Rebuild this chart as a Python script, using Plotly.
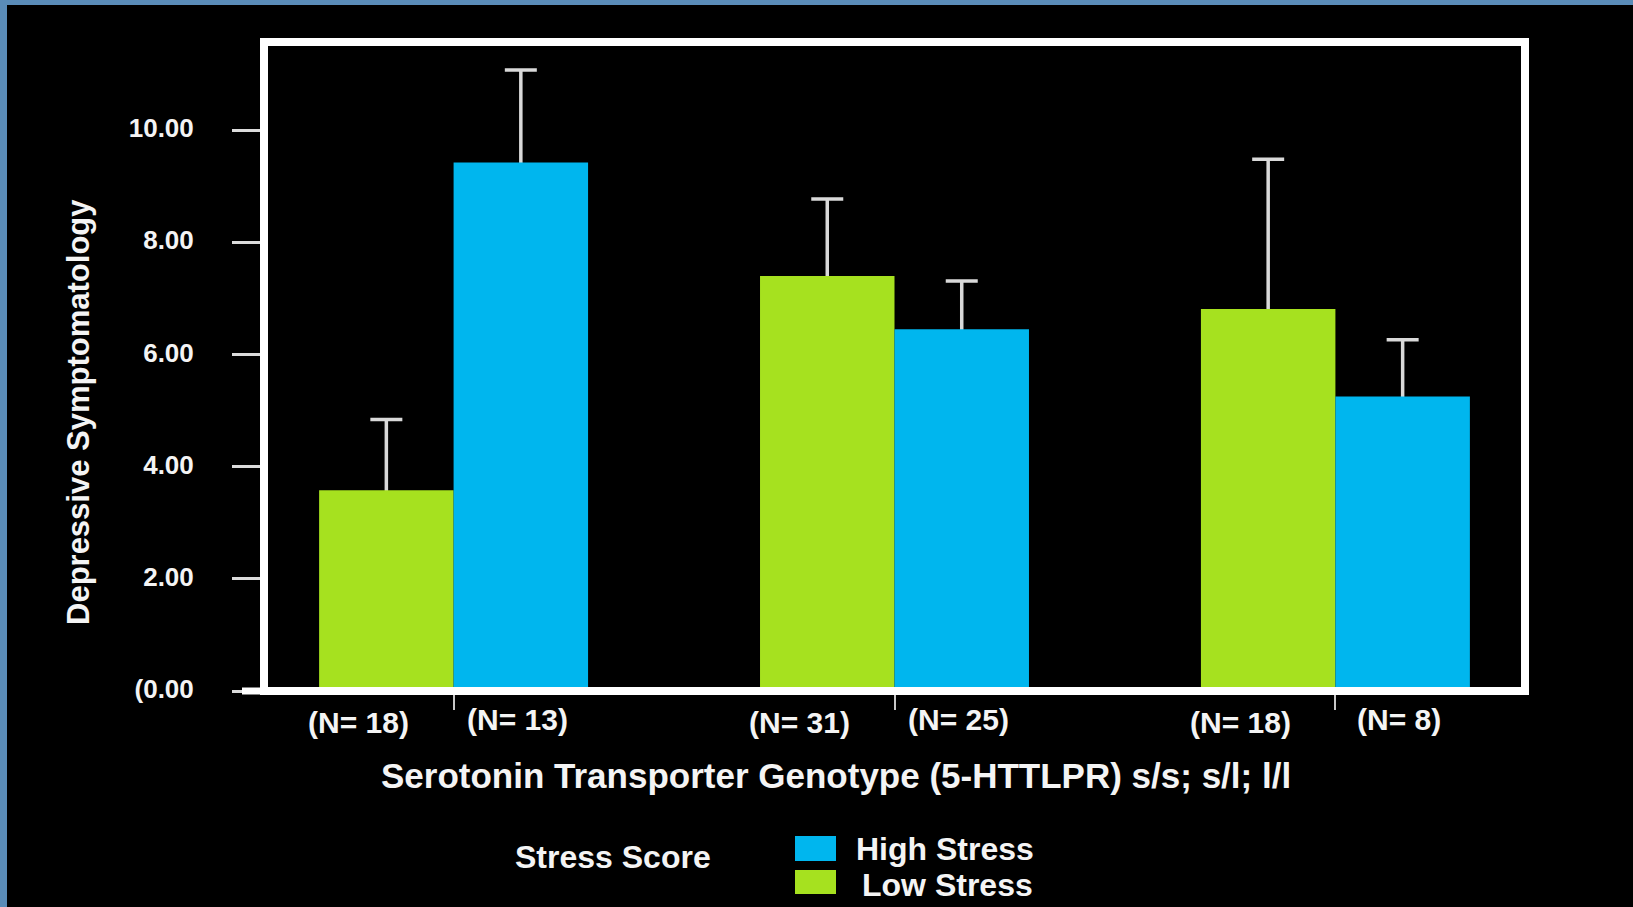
import plotly.graph_objects as go

# ---- data -------------------------------------------------------------
genotypes = ["s/s", "s/l", "l/l"]
series_names = ["Low Stress", "High Stress"]
low_stress_mean = [3.58, 7.40, 6.81]
low_stress_err = [1.26, 1.37, 2.67]
high_stress_mean = [9.42, 6.45, 5.25]
high_stress_err = [1.65, 0.86, 1.01]
low_stress_n = ["(N= 18)", "(N= 31)", "(N= 18)"]
high_stress_n = ["(N= 13)", "(N= 25)", "(N= 8)"]
y_tickvals = [0, 2, 4, 6, 8, 10]
y_ticktext = ["(0.00", "2.00", "4.00", "6.00", "8.00", "10.00"]

# ---- styling ----------------------------------------------------------
W, H = 1633, 907
L, R, T, B = 264, 108, 42, 216          # plot-area margins in px
GREEN = "#a6e11f"
BLUE = "#00b6ee"
ERR = "#d9d9d9"
WHITE = "#f4f4f4"
FRAME_BLUE = "#5a8cb8"
FONT = "Liberation Sans, Arial, sans-serif"

PW = W - L - R
PH = H - T - B


def px_x(px):
    return (px - L) / PW


def px_y(py):
    return (H - B - py) / PH


def error_carrier(name, means, errs, group):
    # transparent bar that only carries the error bar; the coloured bar
    # drawn afterwards in the same offset group hides its lower half
    return go.Bar(
        name=name + " SE",
        x=genotypes,
        y=means,
        offsetgroup=group,
        marker=dict(color="rgba(0,0,0,0)", line=dict(width=0)),
        error_y=dict(type="data", array=errs, color=ERR, thickness=3.5, width=16),
        showlegend=False,
        hoverinfo="skip",
    )


def bar_trace(name, means, color, group):
    return go.Bar(
        name=name,
        x=genotypes,
        y=means,
        offsetgroup=group,
        marker=dict(color=color, line=dict(width=0)),
        showlegend=False,
    )


fig = go.Figure()
fig.add_trace(error_carrier(series_names[0], low_stress_mean, low_stress_err, "low"))
fig.add_trace(error_carrier(series_names[1], high_stress_mean, high_stress_err, "high"))
fig.add_trace(bar_trace(series_names[0], low_stress_mean, GREEN, "low"))
fig.add_trace(bar_trace(series_names[1], high_stress_mean, BLUE, "high"))

fig.update_layout(
    width=W, height=H,
    margin=dict(l=L, r=R, t=T, b=B, autoexpand=False),
    paper_bgcolor="black",
    plot_bgcolor="black",
    barmode="group",
    bargap=0.39,
    bargroupgap=0,
    font=dict(family=FONT, color=WHITE, weight="bold"),
)

fig.update_xaxes(
    type="category",
    range=[-0.43, 2.43],
    showgrid=False, zeroline=False, showline=False,
    showticklabels=False,
    ticks="outside", ticklen=18, tickwidth=2, tickcolor="#c8c8c8",
)
fig.update_yaxes(
    range=[0, 11.57],
    showgrid=False, zeroline=False, showline=False,
    tickvals=y_tickvals, ticktext=y_ticktext,
    ticks="outside", ticklen=31, tickwidth=3, tickcolor="#dcdcdc",
    ticklabelstandoff=33,
    ticklabelshift=-2,
    tickfont=dict(family=FONT, size=26, color=WHITE, weight="bold"),
)

shapes = []
# white frame around the plotting area
shapes.append(dict(type="rect", xref="paper", yref="paper", x0=0, x1=1, y0=0, y1=1,
                   line=dict(color="white", width=8), layer="above"))
# baseline extension to the left of the frame
shapes.append(dict(type="line", xref="paper", yref="paper",
                   x0=px_x(242), x1=0, y0=0, y1=0,
                   line=dict(color="white", width=7), layer="above"))
# blue page border (top and left)
shapes.append(dict(type="rect", xref="paper", yref="paper",
                   x0=px_x(0), x1=px_x(W), y0=px_y(0), y1=px_y(5),
                   fillcolor=FRAME_BLUE, line=dict(width=0), layer="above"))
shapes.append(dict(type="rect", xref="paper", yref="paper",
                   x0=px_x(0), x1=px_x(7), y0=px_y(0), y1=px_y(H),
                   fillcolor=FRAME_BLUE, line=dict(width=0), layer="above"))
# legend swatches
shapes.append(dict(type="rect", xref="paper", yref="paper",
                   x0=px_x(795), x1=px_x(836), y0=px_y(836), y1=px_y(861),
                   fillcolor=BLUE, line=dict(width=0)))
shapes.append(dict(type="rect", xref="paper", yref="paper",
                   x0=px_x(795), x1=px_x(836), y0=px_y(870), y1=px_y(894),
                   fillcolor=GREEN, line=dict(width=0)))
fig.update_layout(shapes=shapes)

ann = []
n_font = dict(size=30, color=WHITE, family=FONT, weight="bold")
# group sizes under each bar
for g, txt in zip(genotypes, low_stress_n):
    ann.append(dict(x=g, y=0, xref="x", yref="paper", text=txt, showarrow=False,
                    xanchor="center", yanchor="middle", xshift=-95, yshift=-31,
                    font=n_font))
for g, txt in zip(genotypes, high_stress_n):
    ann.append(dict(x=g, y=0, xref="x", yref="paper", text=txt, showarrow=False,
                    xanchor="center", yanchor="middle", xshift=64, yshift=-28,
                    font=n_font))
# axis titles
ann.append(dict(x=px_x(836), y=px_y(775), xref="paper", yref="paper",
                text="Serotonin Transporter Genotype (5-HTTLPR) s/s; s/l; l/l",
                showarrow=False, xanchor="center", yanchor="middle",
                font=dict(size=35, color=WHITE, family=FONT, weight="bold")))
ann.append(dict(x=px_x(78), y=px_y(412), xref="paper", yref="paper",
                text="Depressive Symptomatology", textangle=-90,
                showarrow=False, xanchor="center", yanchor="middle",
                font=dict(size=31, color=WHITE, family=FONT, weight="bold")))
# legend text
legend_font = dict(size=32, color=WHITE, family=FONT, weight="bold")
ann.append(dict(x=px_x(613), y=px_y(857), xref="paper", yref="paper",
                text="Stress Score", showarrow=False,
                xanchor="center", yanchor="middle", font=legend_font))
ann.append(dict(x=px_x(854), y=px_y(849), xref="paper", yref="paper",
                text=series_names[1], showarrow=False,
                xanchor="left", yanchor="middle", font=legend_font))
ann.append(dict(x=px_x(860), y=px_y(885), xref="paper", yref="paper",
                text=series_names[0], showarrow=False,
                xanchor="left", yanchor="middle", font=legend_font))
fig.update_layout(annotations=ann)

fig.write_html("out.html")
